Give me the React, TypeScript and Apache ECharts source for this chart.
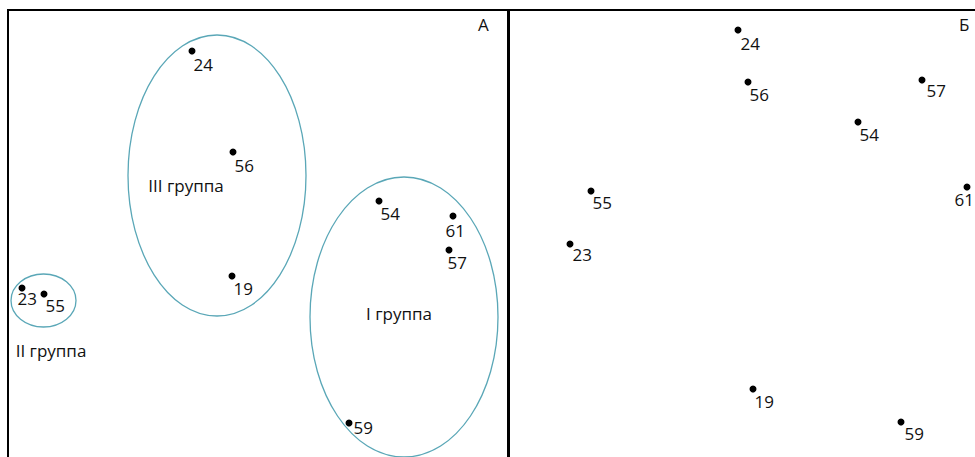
import React, { useEffect, useRef } from "react";
import * as echarts from "echarts";

// Panel A: point ids and coordinates (x right, y down, arbitrary plot units)
const namesA = ["24", "56", "19", "54", "61", "57", "23", "55", "59"];
const xA = [184, 225, 224, 371, 445, 441, 14, 36, 341];
const yA = [41, 142, 266, 191, 206, 240, 278, 284, 413];

// Panel A: cluster ellipses (center x, center y, radius x, radius y)
const groupNames = ["III группа", "II группа", "I группа"];
const groupCx = [209, 35.5, 396];
const groupCy = [165.5, 290.5, 307];
const groupRx = [89, 32.5, 94];
const groupRy = [140.5, 26.5, 140];
// Panel A: group caption positions
const captionX = [178, 43, 391];
const captionY = [175, 340, 303];

// Panel Б: point ids and coordinates
const namesB = ["24", "56", "57", "54", "55", "61", "23", "19", "59"];
const xB = [229, 239, 413, 349, 82, 458, 61, 244, 392];
const yB = [20, 72, 70, 112, 181, 177, 234, 379, 412];

const panelLabels = ["А", "Б"];

// label offsets (style)
const defaultOffset = [-2, 12];
const offsetsA: Record<string, number[]> = {
  "24": [-2, 13],
  "56": [-2, 13],
  "59": [1, 4],
  "61": [-11, 14],
  "23": [-8, 10],
  "57": [-5, 12],
  "55": [-2, 11],
};
const offsetsB: Record<string, number[]> = {
  "24": [-1, 13],
  "57": [1, 10],
  "61": [-16, 12],
  "55": [-2, 11],
  "23": [-1, 10],
  "59": [0, 11],
};

const FONT = "'Open Sans', sans-serif";
const TEXT = "#111";
const ELL = "#5aa7b7";

function pts(names: string[], xs: number[], ys: number[], offs: Record<string, number[]>) {
  return names.map((n, i) => ({
    name: n,
    value: [xs[i], ys[i]],
    label: { offset: offs[n] || defaultOffset },
  }));
}

export default function App() {
  const ref = useRef<HTMLDivElement>(null);
  useEffect(() => {
    document.body.style.margin = "0";
    const chart = echarts.init(ref.current!, null, { renderer: "svg" });
    const scatterBase = {
      type: "scatter",
      symbol: "circle",
      symbolSize: 7,
      itemStyle: { color: "#000", opacity: 1 },
      label: {
        show: true,
        position: "right",
        distance: 0,
        formatter: "{b}",
        color: TEXT,
        fontSize: 17,
        fontFamily: FONT,
      },
      silent: true,
    };
    chart.setOption({
      animation: false,
      backgroundColor: "#fff",
      grid: [
        { left: 8, top: 10, width: 500, height: 460, outerBoundsMode: "none", show: true, borderColor: "#000", borderWidth: 2, backgroundColor: "transparent" },
        { left: 509, top: 10, width: 480, height: 460, outerBoundsMode: "none", show: true, borderColor: "#000", borderWidth: 2, backgroundColor: "transparent" },
      ],
      xAxis: [
        { type: "value", gridIndex: 0, min: 0, max: 500, show: false },
        { type: "value", gridIndex: 1, min: 0, max: 480, show: false },
      ],
      yAxis: [
        { type: "value", gridIndex: 0, min: 0, max: 460, inverse: true, show: false },
        { type: "value", gridIndex: 1, min: 0, max: 460, inverse: true, show: false },
      ],
      graphic: [
        { type: "text", left: 478, top: 16, style: { text: panelLabels[0], font: `17px ${FONT}`, fill: TEXT } },
        { type: "text", left: 959, top: 16, style: { text: panelLabels[1], font: `17px ${FONT}`, fill: TEXT } },
      ],
      series: [
        {
          type: "custom",
          xAxisIndex: 0,
          yAxisIndex: 0,
          silent: true,
          data: groupNames.map((n, i) => [groupCx[i], groupCy[i], groupRx[i], groupRy[i]]),
          renderItem: (params: any, api: any) => {
            const c = api.coord([api.value(0), api.value(1)]);
            const s = api.size([api.value(2), api.value(3)]);
            return {
              type: "ellipse",
              shape: { cx: c[0], cy: c[1], rx: s[0], ry: s[1] },
              style: { fill: "none", stroke: ELL, lineWidth: 1.3 },
            };
          },
        },
        {
          type: "custom",
          xAxisIndex: 0,
          yAxisIndex: 0,
          silent: true,
          data: groupNames.map((n, i) => [captionX[i], captionY[i], i]),
          renderItem: (params: any, api: any) => {
            const c = api.coord([api.value(0), api.value(1)]);
            return {
              type: "text",
              x: c[0],
              y: c[1],
              style: {
                text: groupNames[api.value(2)],
                font: `17px ${FONT}`,
                fill: TEXT,
                align: "center",
                verticalAlign: "middle",
              },
            };
          },
        },
        { ...scatterBase, xAxisIndex: 0, yAxisIndex: 0, data: pts(namesA, xA, yA, offsetsA) },
        { ...scatterBase, xAxisIndex: 1, yAxisIndex: 1, data: pts(namesB, xB, yB, offsetsB) },
      ],
    });
    return () => chart.dispose();
  }, []);
  return <div ref={ref} style={{ width: 975, height: 457 }} />;
}
